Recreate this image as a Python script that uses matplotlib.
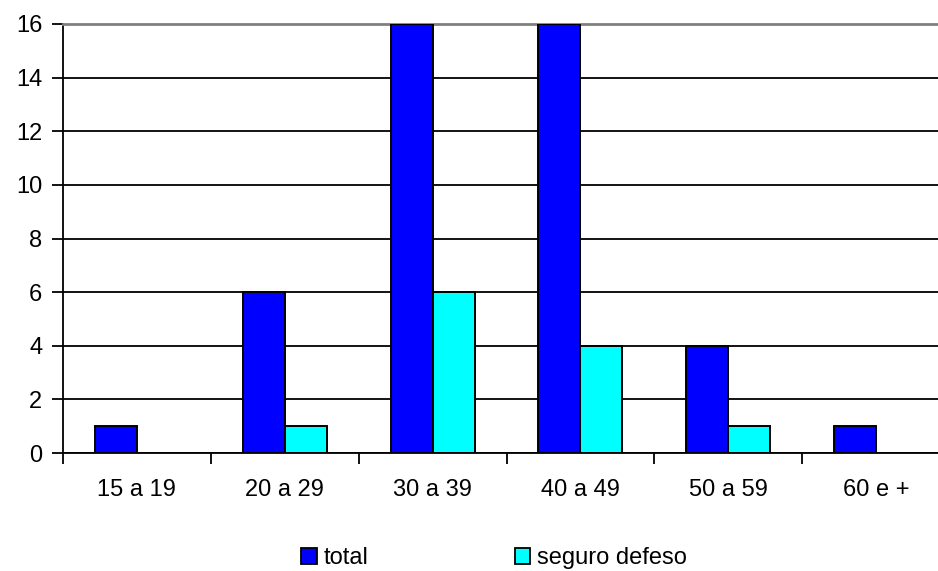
import matplotlib.pyplot as plt
import numpy as np
from matplotlib.patches import Patch

plt.rcParams['font.family'] = ['Liberation Sans', 'DejaVu Sans']
plt.rcParams['font.size'] = 17

# dados
faixas = ['15 a 19', '20 a 29', '30 a 39', '40 a 49', '50 a 59', '60 e +']
total = [1, 6, 16, 16, 4, 1]
seguro_defeso = [0, 1, 6, 4, 1, 0]

cor_total = '#0000FF'
cor_seguro = '#00FFFF'

fig = plt.figure(figsize=(9.38, 5.71), dpi=100)
# eixo um pouco mais largo que a figura (o ultimo grupo fica cortado, como no original)
ax = fig.add_axes([63 / 938, 118 / 571, 887 / 938, 429 / 571])

x = np.arange(len(faixas))
largura = 0.284

tot = np.array(total, dtype=float)
seg = np.array(seguro_defeso, dtype=float)
ax.bar(x[tot > 0] - largura / 2, tot[tot > 0], largura, color=cor_total,
       edgecolor='black', linewidth=1.4, zorder=3)
ax.bar(x[seg > 0] + largura / 2, seg[seg > 0], largura, color=cor_seguro,
       edgecolor='black', linewidth=1.4, zorder=3)

ax.set_xlim(-0.5, len(faixas) - 0.5)
ax.set_ylim(0, 16)
ax.set_yticks(range(0, 17, 2))
ax.grid(axis='y', color='black', linewidth=1.3, zorder=0)
ax.set_axisbelow(True)

# ticks do eixo x nas divisas entre categorias, rotulos no centro
ax.set_xticks(np.arange(-0.5, len(faixas), 1.0))
ax.set_xticklabels([])
ax.set_xticks(x, minor=True)
ax.set_xticklabels(faixas, minor=True)
ax.tick_params(axis='x', which='minor', length=0, pad=19)
ax.tick_params(axis='x', which='major', length=8, width=1.3, direction='out')
ax.tick_params(axis='y', length=8, width=1.3, direction='out', pad=7)

ax.spines['top'].set_color('gray')
ax.spines['top'].set_linewidth(2)
ax.spines['right'].set_visible(False)
for s in ['left', 'bottom']:
    ax.spines[s].set_linewidth(1.3)

handles = [Patch(facecolor=cor_total, edgecolor='black', linewidth=1.3),
           Patch(facecolor=cor_seguro, edgecolor='black', linewidth=1.3)]
fig.legend(handles, ['total', 'seguro defeso'], loc='center',
           bbox_to_anchor=(0.527, 0.022), ncol=2, frameon=False,
           handlelength=0.65, handleheight=0.65, handletextpad=0.3,
           columnspacing=6.2)

plt.savefig('out.png', dpi=100)
